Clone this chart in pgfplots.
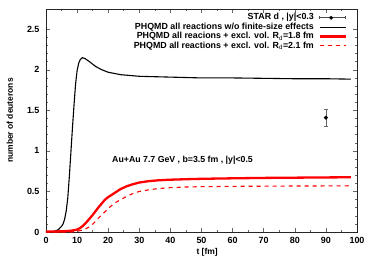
\documentclass[border=0pt]{standalone}
\usepackage{pgfplots}
\pgfplotsset{compat=1.18}
\usepackage{fontspec}
\setmainfont{Liberation Sans}
\pgfplotsset{
  myleg/.style={legend image code/.code={\draw[##1] (0cm,0cm) -- (0.92cm,0cm);}},
  dashleg/.style={legend image code/.code={\draw[red, line width=1.1bp, dash pattern=on 4bp off 4bp] (0cm,0cm) -- (0.92cm,0cm);}},
  starleg/.style={legend image code/.code={
    \draw[black!70, line width=0.5bp] (0cm,0cm) -- (0.92cm,0cm);
    \draw[black!70, line width=0.5bp] (0cm,-1.5bp) -- (0cm,1.5bp);
    \draw[black!70, line width=0.5bp] (0.92cm,-1.5bp) -- (0.92cm,1.5bp);
    \fill[black] (0.41cm,0cm) circle (1.8bp);}},
}
\begin{document}
\begin{tikzpicture}
\useasboundingbox (-46bp,-30bp) rectangle (328bp,232bp);
\begin{axis}[
  at={(0,0)}, anchor=south west,
  scale only axis, width=311bp, height=223bp,
  xmin=0, xmax=100, ymin=0, ymax=2.75,
  xtick={0,10,...,100}, minor x tick num=1,
  ytick={0,0.5,1,1.5,2,2.5}, minor y tick num=4,
  yticklabels={0,0.5,1,1.5,2,2.5},
  tick align=inside,
  major tick length=4bp, minor tick length=2bp,
  axis line style={black!85, line width=0.7bp},
  every tick/.style={black!60, line width=0.5bp},
  tick label style={font=\bfseries\fontsize{9}{10}\selectfont},
  /pgf/number format/assume math mode=true,
  xticklabel style={yshift=-2bp},
  yticklabel style={xshift=-3bp},
  xlabel={t [fm]}, ylabel={number of deuterons},
  label style={font=\bfseries\fontsize{8.5}{9.5}\selectfont},
  xlabel style={at={(axis description cs:0.518,-0.09)}, anchor=center},
  ylabel style={at={(axis description cs:-0.116,0.5)}, anchor=center},
  legend style={at={(rel axis cs:0.967,0.982)}, anchor=north east, draw=none, fill=none,
    inner sep=0pt, outer sep=0pt,
    font=\bfseries\fontsize{8.9}{9}\selectfont, row sep=0pt, column sep=4bp,
    nodes={text height=6.4bp, text depth=2.1bp, inner ysep=0.45bp, inner xsep=0.5bp}},
  legend cell align=right, legend plot pos=right,
]
\addplot+[black, only marks, mark=*, mark size=1.8bp, mark options={fill=black}, starleg,
  error bars/.cd, y dir=both, y explicit, error bar style={black!60, line width=0.5bp},
  error mark options={black!60, mark size=2bp, rotate=90}]
  coordinates {(90,1.41) +- (0,0.1)};
\addplot[black, line width=1.1bp, myleg] coordinates {
(0,0.0) (2,0.005) (3,0.012) (4,0.03) (5,0.07) (5.5,0.1) (6,0.16) (6.5,0.26) (7,0.42) (7.5,0.68)
(8,0.98) (8.5,1.28) (9,1.56) (9.5,1.82) (10,1.99) (10.5,2.08) (11,2.125) (11.7,2.15) (12.5,2.14)
(14,2.1) (16,2.04) (18,2.0) (20,1.97) (24,1.94) (30,1.92) (40,1.91) (50,1.90) (60,1.90)
(70,1.895) (80,1.89) (90,1.89) (98,1.885)};
\addplot[red, line width=2.3bp, myleg] coordinates {
(0,0.005) (5,0.008) (8,0.015) (10,0.03) (11,0.05) (12,0.08) (13,0.12) (14,0.165) (15,0.21)
(16,0.26) (17,0.31) (18,0.355) (19,0.40) (20,0.43) (21,0.455) (22,0.48) (24,0.53) (26,0.565) (28,0.59)
(30,0.61) (33,0.627) (36,0.637) (40,0.645) (45,0.651) (50,0.656) (60,0.662) (70,0.667)
(80,0.67) (90,0.673) (98,0.675)};
\addplot[red, line width=1.1bp, dash pattern=on 4bp off 4bp, dashleg] coordinates {
(0,0.0) (8,0.0) (10,0.008) (12,0.028) (13,0.045) (14,0.065) (15,0.095) (16,0.135) (17,0.175)
(18,0.215) (19,0.25) (20,0.29) (22,0.355) (24,0.40) (26,0.44) (28,0.475) (30,0.50) (33,0.52)
(36,0.535) (40,0.547) (45,0.555) (50,0.559) (60,0.563) (70,0.565) (80,0.567) (90,0.568) (98,0.57)};
\legend{{STAR d , |y|<0.3},{PHQMD all reactions w/o finite-size effects},
  {PHQMD all reacions + excl. vol. R$_\mathrm{d}$=1.8 fm},
  {PHQMD all reactions + excl. vol. R$_\mathrm{d}$=2.1 fm}}
\node[font=\bfseries\fontsize{8.8}{9.5}\selectfont] at (axis cs:43.9,0.889) {Au+Au 7.7 GeV , b=3.5 fm , |y|<0.5};
\end{axis}
\end{tikzpicture}
\end{document}
